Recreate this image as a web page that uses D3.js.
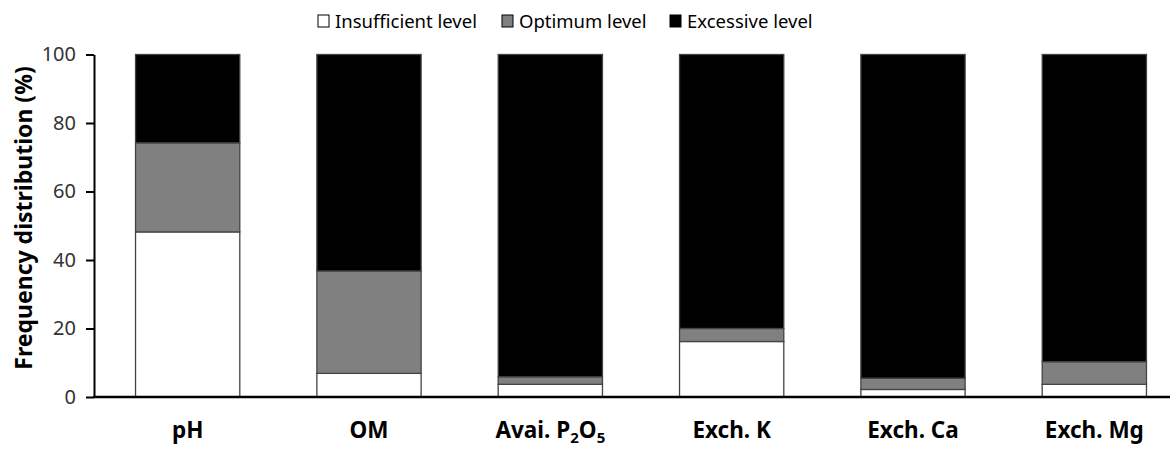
<!DOCTYPE html>
<html><head><meta charset="utf-8">
<script src="https://cdn.jsdelivr.net/npm/d3@7"></script>
<style>body{margin:0;background:#fff;} svg{display:block;}</style>
</head><body>
<svg id="c" width="1170" height="450"></svg>
<script>
const categories = ["pH", "OM", "Avai. P2O5", "Exch. K", "Exch. Ca", "Exch. Mg"];
const insufficient = [48.2, 6.9, 3.7, 16.2, 2.2, 3.7];
const optimum = [26.0, 29.9, 2.2, 3.8, 3.3, 6.6];
const excessive = [25.8, 63.2, 94.1, 80.0, 94.5, 89.7];
const seriesNames = ["Insufficient level", "Optimum level", "Excessive level"];
const yTicks = [0, 20, 40, 60, 80, 100];

const colors = ["#ffffff", "#808080", "#000000"];
const svg = d3.select("#c");
const font = "'Noto Sans', 'Open Sans', sans-serif";

const x = d3.scaleBand().domain(categories).range([97, 1185]).paddingInner(0.425).paddingOuter(0.2125);
const y = d3.scaleLinear().domain([0, 100]).range([397, 54.5]);

const rows = categories.map((c, i) => ({cat: c, ins: insufficient[i], opt: optimum[i], exc: excessive[i]}));
const stack = d3.stack().keys(["ins", "opt", "exc"])(rows);

svg.append("g").selectAll("g").data(stack).join("g")
  .attr("fill", (d, i) => colors[i])
  .selectAll("rect").data(d => d).join("rect")
  .attr("x", d => x(d.data.cat))
  .attr("width", x.bandwidth())
  .attr("y", d => y(d[1]))
  .attr("height", d => y(d[0]) - y(d[1]))
  .attr("stroke", "#444").attr("stroke-width", 1.3);

// y axis
const ya = svg.append("g").attr("transform", "translate(94,0)")
  .call(d3.axisLeft(y).tickValues(yTicks).tickSize(8).tickPadding(10).tickSizeOuter(0));
ya.select(".domain").attr("stroke", "#000").attr("stroke-width", 2);
ya.selectAll(".tick line").attr("stroke", "#000").attr("stroke-width", 2);
ya.selectAll(".tick text").attr("font-family", font).attr("font-size", 20).attr("fill", "#333");

// x axis line
svg.append("line").attr("x1", 93).attr("x2", 1170).attr("y1", y(0)).attr("y2", y(0))
  .attr("stroke", "#000").attr("stroke-width", 2.5);

// x labels
const xl = svg.append("g").attr("font-family", font).attr("font-size", 22.5).attr("font-weight", "bold")
  .attr("text-anchor", "middle").attr("fill", "#000");
categories.forEach(c => {
  const t = xl.append("text").attr("x", x(c) + x.bandwidth() / 2).attr("y", 438);
  if (c === "Avai. P2O5") {
    t.append("tspan").text("Avai. P");
    t.append("tspan").text("2").attr("font-size", 15).attr("dy", 5);
    t.append("tspan").text("O").attr("dy", -5);
    t.append("tspan").text("5").attr("font-size", 15).attr("dy", 5);
  } else {
    t.text(c);
  }
});

// y title
svg.append("text").attr("transform", "translate(32,218) rotate(-90)")
  .attr("text-anchor", "middle").attr("font-family", font).attr("font-size", 23)
  .attr("font-weight", "bold").attr("fill", "#000").text("Frequency distribution (%)");

// legend
const legX = [318, 502, 670];
const lg = svg.append("g").attr("font-family", font).attr("font-size", 18.5).attr("fill", "#000");
seriesNames.forEach((n, i) => {
  lg.append("rect").attr("x", legX[i]).attr("y", 15).attr("width", 11).attr("height", 12)
    .attr("fill", colors[i]).attr("stroke", "#000").attr("stroke-width", 1);
  lg.append("text").attr("x", legX[i] + 17).attr("y", 28).text(n);
});
</script>
</body></html>
